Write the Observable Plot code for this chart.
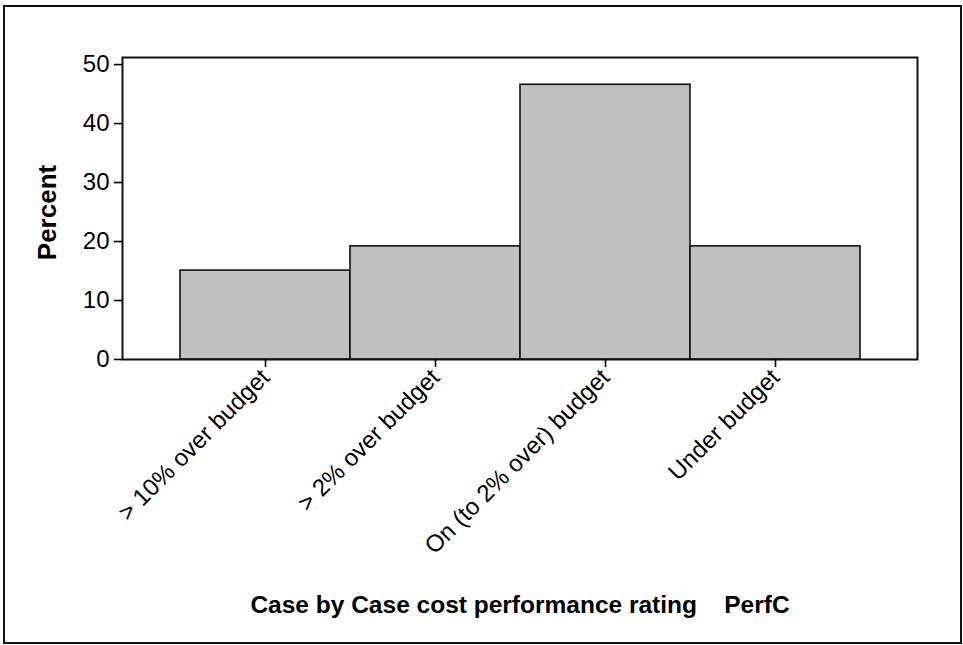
<!DOCTYPE html>
<html>
<head>
<meta charset="utf-8">
<script src="https://cdn.jsdelivr.net/npm/d3@7"></script>
<script src="https://cdn.jsdelivr.net/npm/@observablehq/plot@0.6"></script>
<style>
  html, body { margin: 0; padding: 0; background: #fff; }
  #wrap { position: relative; width: 963px; height: 645px; }
  #border { position: absolute; left: 3px; top: 5px; width: 955px; height: 635px; border: 2px solid #111; pointer-events: none; }
</style>
</head>
<body>
<div id="wrap"><div id="border"></div></div>
<script>
const categories = ["> 10% over budget", "> 2% over budget", "On (to 2% over) budget", "Under budget"];
const percents = [15.07, 19.18, 46.58, 19.18];
const yTicks = [0, 10, 20, 30, 40, 50];
const xTitle = "Case by Case cost performance rating    PerfC";
const yTitle = "Percent";

const data = categories.map((c, i) => ({category: c, percent: percents[i]}));

const font = "Arial, 'Liberation Sans', sans-serif";

const chart = Plot.plot({
  width: 963,
  height: 645,
  marginLeft: 122,
  marginRight: 46,
  marginTop: 57,
  marginBottom: 286,
  style: {fontFamily: font, color: "black", background: "white", overflow: "visible"},
  x: {type: "band", domain: categories, paddingInner: 0, paddingOuter: 0.335},
  y: {domain: [0, 51.2]},
  marks: [
    Plot.barY(data, {x: "category", y: "percent", fill: "#c0c0c0", stroke: "#111", strokeWidth: 1.6, inset: 0}),
    Plot.frame({stroke: "#111", strokeWidth: 2}),
    Plot.axisY({ticks: yTicks, tickSize: 8, tickPadding: 5, fontSize: 24, label: null, strokeWidth: 1.6}),
    Plot.axisX({tickSize: 8, tickPadding: 6, tickRotate: -45, fontSize: 24, label: null, strokeWidth: 1.6}),
    Plot.text([xTitle], {frameAnchor: "bottom", dy: 246, fontWeight: "bold", fontSize: 24.5, textAnchor: "middle", lineAnchor: "middle"}),
    Plot.text([yTitle], {frameAnchor: "left", rotate: -90, dx: -75, dy: 4, fontWeight: "bold", fontSize: 26, textAnchor: "middle", lineAnchor: "middle"})
  ]
});

chart.querySelectorAll("text").forEach(t => t.style.whiteSpace = "pre");
document.getElementById("wrap").prepend(chart);
</script>
</body>
</html>
